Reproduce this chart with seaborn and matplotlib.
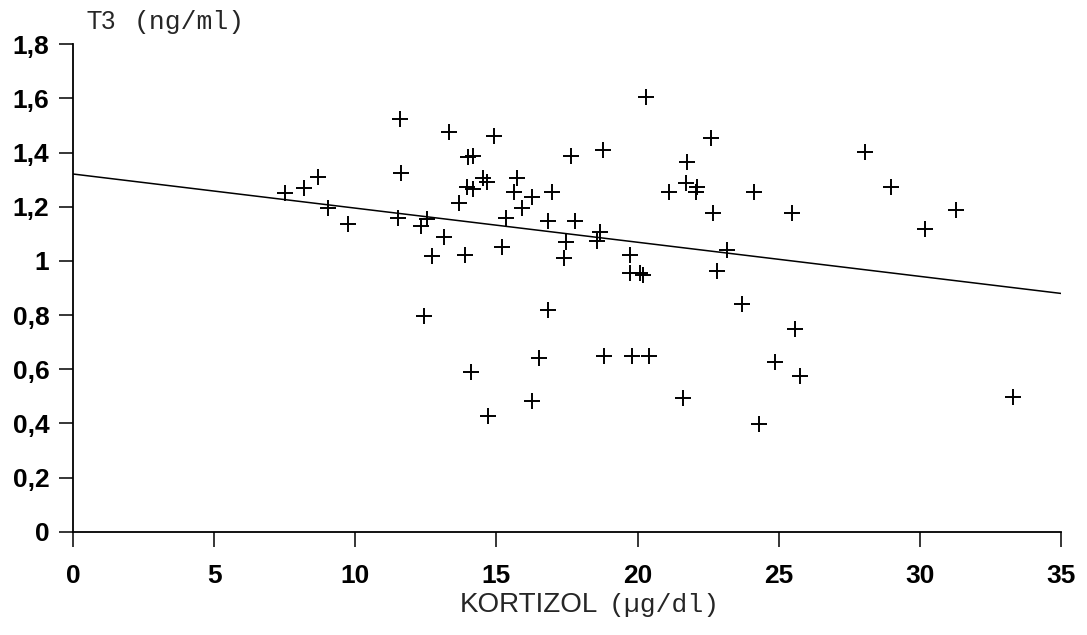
import matplotlib
matplotlib.use("Agg")
import matplotlib.pyplot as plt
import seaborn as sns
import pandas as pd

# Kortizol (µg/dl) and T3 (ng/ml) values
kortizol = [7.51, 8.19, 8.67, 9.05, 9.75, 11.58, 11.61, 11.52, 12.32, 12.55,
            13.15, 12.71, 13.89, 13.33, 14.92, 14.00, 14.16, 14.51, 14.68, 13.95,
            14.16, 13.68, 15.72, 15.62, 16.26, 15.92, 15.34, 15.19, 16.84, 16.98,
            17.78, 17.66, 18.76, 20.30, 17.45, 17.40, 18.67, 18.55, 19.73, 19.73,
            20.18, 20.10, 21.11, 21.77, 22.60, 21.71, 22.09, 22.07, 22.68, 24.12,
            25.46, 23.18, 22.80, 23.69, 28.05, 28.98, 30.20, 31.28, 12.43, 14.09,
            14.71, 16.27, 16.52, 16.81, 18.81, 19.79, 20.41, 25.58, 24.87, 25.75,
            21.62, 24.30, 33.31]
t3 = [1.252, 1.270, 1.310, 1.196, 1.136, 1.525, 1.323, 1.157, 1.129, 1.154,
      1.089, 1.018, 1.022, 1.478, 1.461, 1.385, 1.387, 1.305, 1.293, 1.272,
      1.264, 1.215, 1.305, 1.256, 1.235, 1.196, 1.157, 1.050, 1.148, 1.253,
      1.148, 1.389, 1.410, 1.606, 1.071, 1.012, 1.108, 1.073, 1.022, 0.956,
      0.948, 0.955, 1.256, 1.366, 1.453, 1.289, 1.274, 1.256, 1.176, 1.256,
      1.178, 1.040, 0.964, 0.840, 1.403, 1.274, 1.118, 1.188, 0.797, 0.591,
      0.427, 0.484, 0.643, 0.819, 0.650, 0.650, 0.650, 0.749, 0.626, 0.575,
      0.495, 0.398, 0.499]

# regression line end points
fit_x = [0, 35]
fit_y = [1.321, 0.880]

x_ticks = [0, 5, 10, 15, 20, 25, 30, 35]
y_ticks = [0, 0.2, 0.4, 0.6, 0.8, 1.0, 1.2, 1.4, 1.6, 1.8]
y_tick_labels = ["0", "0,2", "0,4", "0,6", "0,8", "1", "1,2", "1,4", "1,6", "1,8"]

sns.set_style("ticks")
plt.rcParams["font.family"] = ["Liberation Sans", "DejaVu Sans"]

df = pd.DataFrame({"x": kortizol, "y": t3})
line_df = pd.DataFrame({"x": fit_x, "y": fit_y})

fig = plt.figure(figsize=(10.87, 6.35), dpi=100)
ax = fig.add_axes([0.0672, 0.1627, 0.9088, 0.7675])

sns.lineplot(data=line_df, x="x", y="y", ax=ax, color="black", linewidth=1.1)
sns.scatterplot(data=df, x="x", y="y", ax=ax, marker="+", s=130,
                color="black", linewidth=1.4)

ax.set_xlim(0, 35)
ax.set_ylim(0, 1.8)
ax.set_xticks(x_ticks)
ax.set_xticklabels([str(v) for v in x_ticks])
ax.set_yticks(y_ticks)
ax.set_yticklabels(y_tick_labels)
ax.set_xlabel("")
ax.set_ylabel("")
sns.despine(ax=ax)
for s in ["left", "bottom"]:
    ax.spines[s].set_linewidth(1.3)
    ax.spines[s].set_color("black")
ax.tick_params(axis="x", direction="out", length=11, width=1.1, pad=12,
               labelsize=19, colors="black")
ax.tick_params(axis="y", direction="out", length=10, width=1.1, pad=7,
               labelsize=19, colors="black")
for lab in ax.get_xticklabels() + ax.get_yticklabels():
    lab.set_fontweight("bold")

# axis titles
fig.text(0.080, 0.966, "T3", fontsize=18, fontfamily="Liberation Sans",
         ha="left", va="center")
fig.text(0.123, 0.966, "(ng/ml)", fontsize=19, fontfamily="Liberation Mono",
         ha="left", va="center")
fig.text(0.423, 0.047, "KORTIZOL", fontsize=20, fontfamily="Liberation Sans",
         ha="left", va="center")
fig.text(0.560, 0.047, "(\u00b5g/dl)", fontsize=19, fontfamily="Liberation Mono",
         ha="left", va="center")

fig.savefig("out.png", dpi=100, facecolor="white")
